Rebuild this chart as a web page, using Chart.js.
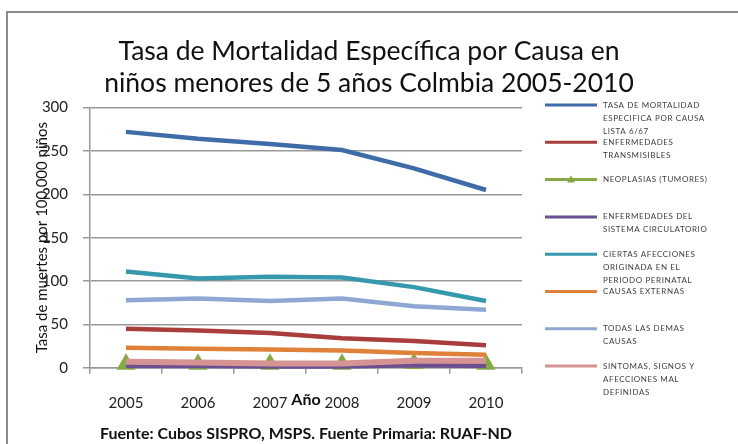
<!DOCTYPE html>
<html>
<head>
<meta charset="utf-8">
<script src="https://cdn.jsdelivr.net/npm/chart.js@4/dist/chart.umd.min.js"></script>
<style>
  html, body { margin: 0; padding: 0; background: #fff; }
  #wrap { width: 738px; height: 444px; }
</style>
</head>
<body>
<div id="wrap"><canvas id="chart"></canvas></div>
<script>
// años
const years = ['2005', '2006', '2007', '2008', '2009', '2010'];

// tasas por 100.000 niños
const tasaTotal = [272, 264, 258, 251, 230, 205];
const transmisibles = [45, 43, 40, 34, 31, 26];
const neoplasias = [4, 4, 4, 4, 5, 4];
const circulatorio = [2, 2, 1.5, 1.5, 3, 2];
const perinatal = [111, 103, 105, 104, 93, 77];
const externas = [23, 22, 21, 20, 17, 15];
const demas = [78, 80, 77, 80, 71, 67];
const sintomas = [7, 6, 5, 5, 8, 8];

const yTicks = [0, 50, 100, 150, 200, 250, 300];

// nombres de la leyenda, ya partidos en lineas como en el original
const names = [
    ['TASA DE MORTALIDAD', 'ESPECIFICA POR CAUSA', 'LISTA 6/67'],
    ['ENFERMEDADES', 'TRANSMISIBLES'],
    ['NEOPLASIAS (TUMORES)'],
    ['ENFERMEDADES DEL', 'SISTEMA CIRCULATORIO'],
    ['CIERTAS AFECCIONES', 'ORIGINADA EN EL', 'PERIODO PERINATAL'],
    ['CAUSAS EXTERNAS'],
    ['TODAS LAS DEMAS', 'CAUSAS'],
    ['SINTOMAS, SIGNOS Y', 'AFECCIONES MAL', 'DEFINIDAS']
];
const series = [tasaTotal, transmisibles, neoplasias, circulatorio, perinatal, externas, demas, sintomas];
const colors = ['#3f6ca8', '#a93d3b', '#86a845', '#6b4f90', '#3598ad', '#e0813a', '#8ea8d3', '#d69393'];

Chart.defaults.font.family = 'Lato';
Chart.defaults.color = '#222';

const datasets = series.map((vals, i) => {
    const isNeo = i === 2;
    return {
        label: names[i].join(' '),
        data: vals,
        borderColor: colors[i],
        backgroundColor: colors[i],
        borderWidth: i === 7 ? 6 : 4.5,
        tension: 0,
        pointStyle: isNeo ? 'triangle' : 'circle',
        pointRadius: isNeo ? 11 : 0,
        pointBorderWidth: 0,
        clip: false,
        order: series.length - i
    };
});

// marco gris y fondo blanco
const framePlugin = {
    id: 'frame',
    beforeDraw(chart) {
        const ctx = chart.ctx;
        ctx.save();
        ctx.fillStyle = '#fff';
        ctx.fillRect(0, 0, chart.width, chart.height);
        ctx.strokeStyle = '#8a8a8a';
        ctx.lineWidth = 2;
        ctx.strokeRect(7, 12, chart.width + 20, chart.height + 20);
        ctx.restore();
    }
};

// leyenda a la derecha, con textos de varias lineas
const sideLegend = {
    id: 'sideLegend',
    afterDraw(chart) {
        const ctx = chart.ctx;
        ctx.save();
        ctx.font = '8px Lato';
        ctx.letterSpacing = '0.6px';
        ctx.fillStyle = '#404040';
        ctx.textBaseline = 'middle';
        chart.data.datasets.forEach((ds, i) => {
            const y = 105 + i * 37.3;
            ctx.strokeStyle = ds.borderColor;
            ctx.lineWidth = 3;
            ctx.beginPath();
            ctx.moveTo(545, y);
            ctx.lineTo(597, y);
            ctx.stroke();
            if (ds.pointStyle === 'triangle') {
                ctx.fillStyle = ds.borderColor;
                ctx.beginPath();
                ctx.moveTo(571, y - 4);
                ctx.lineTo(575, y + 3);
                ctx.lineTo(567, y + 3);
                ctx.closePath();
                ctx.fill();
                ctx.fillStyle = '#404040';
            }
            names[i].forEach((t, j) => ctx.fillText(t, 603, y + j * 13));
        });
        ctx.restore();
    }
};

new Chart(document.getElementById('chart'), {
    type: 'line',
    data: { labels: years, datasets: datasets },
    options: {
        responsive: true,
        maintainAspectRatio: false,
        animation: false,
        layout: { padding: 0 },
        plugins: {
            legend: { display: false },
            tooltip: { enabled: false },
            title: {
                display: true,
                text: ['Tasa de Mortalidad Específica por Causa en', 'niños menores de 5 años Colmbia 2005-2010'],
                font: { size: 26.5, weight: 'normal', lineHeight: 1.2 },
                color: '#111',
                padding: { top: 36, bottom: 8 }
            },
            subtitle: {
                display: true,
                position: 'bottom',
                fullSize: false,
                text: 'Fuente: Cubos SISPRO, MSPS. Fuente Primaria: RUAF-ND',
                font: { size: 16, weight: 'bold' },
                color: '#111',
                padding: { top: 6, bottom: 1 }
            }
        },
        scales: {
            x: {
                offset: true,
                grid: { display: true, drawOnChartArea: false, drawTicks: true, tickLength: 6, offset: true, color: '#999', lineWidth: 1.5 },
                border: { display: true, color: '#999', width: 1.5 },
                ticks: { font: { size: 15 }, padding: 20, color: '#222' },
                title: { display: true, text: 'Año', font: { size: 16, weight: 'bold' }, color: '#111', padding: { top: 0, bottom: 8 } },
                afterFit(scale) { scale.height = 50; }
            },
            y: {
                min: 0,
                max: 300,
                grid: { color: '#999', lineWidth: 1.5, tickLength: 7 },
                border: { display: true, color: '#999', width: 1.5 },
                ticks: {
                    font: { size: 15 },
                    padding: 15,
                    color: '#222',
                    stepSize: 50
                },
                afterBuildTicks(scale) { scale.ticks = yTicks.map(v => ({ value: v })); },
                title: { display: true, text: 'Tasa de muertes por 100,000 niños', font: { size: 15 }, color: '#111', padding: { top: 33, bottom: 0 } },
                afterFit(scale) { scale.width = 90; }
            },
            side: {
                type: 'linear',
                axis: 'y',
                position: 'right',
                display: true,
                grid: { display: false },
                border: { display: false },
                ticks: { display: false },
                afterFit(scale) { scale.width = 216; }
            }
        }
    },
    plugins: [framePlugin, sideLegend]
});
</script>
</body>
</html>
